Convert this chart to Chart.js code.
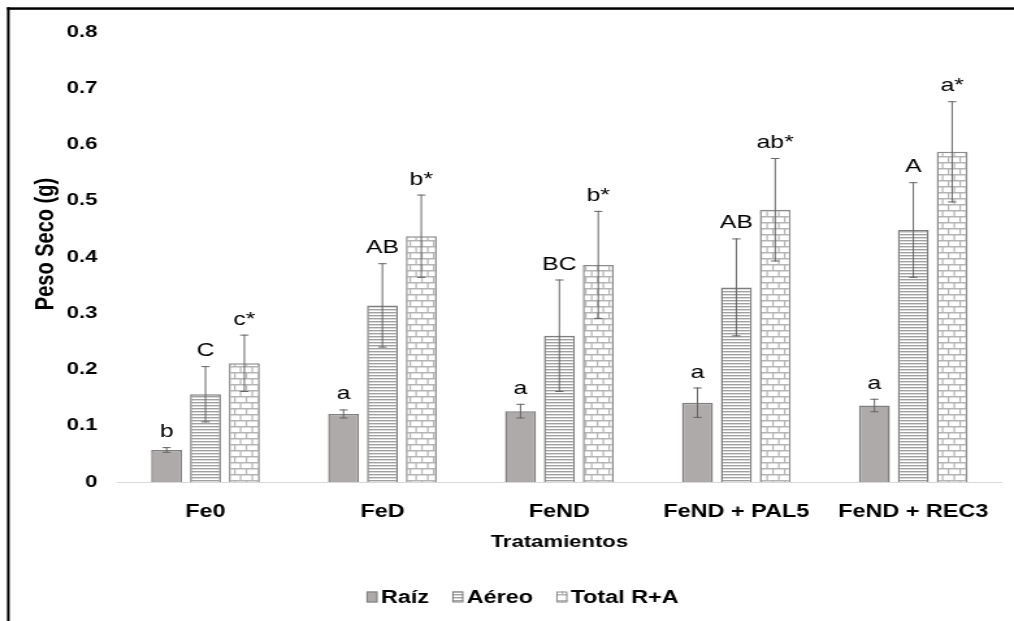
<!DOCTYPE html>
<html>
<head>
<meta charset="utf-8">
<script src="https://cdn.jsdelivr.net/npm/chart.js@4.4.1/dist/chart.umd.min.js"></script>
<style>
  html, body { margin: 0; padding: 0; background: #fff; }
  #chart { display: block; }
</style>
</head>
<body>
<!-- the reference is an Excel chart stretched sideways: draw narrow, widen with css -->
<canvas id="chart" width="780" height="621" style="width:1014px;height:621px"></canvas>
<script>
const categories = ["Fe0", "FeD", "FeND", "FeND + PAL5", "FeND + REC3"];
const seriesNames = ["Raíz", "Aéreo", "Total R+A"];

const raiz = [0.057, 0.121, 0.126, 0.141, 0.136];
const raizErr = [0.005, 0.008, 0.013, 0.027, 0.012];
const raizLetters = ["b", "a", "a", "a", "a"];

const aereo = [0.156, 0.314, 0.260, 0.346, 0.448];
const aereoErr = [0.050, 0.075, 0.100, 0.087, 0.085];
const aereoLetters = ["C", "AB", "BC", "AB", "A"];

const total = [0.211, 0.437, 0.386, 0.484, 0.587];
const totalErr = [0.051, 0.074, 0.096, 0.092, 0.090];
const totalLetters = ["c*", "b*", "b*", "ab*", "a*"];

const yTickLabels = ["0", "0.1", "0.2", "0.3", "0.4", "0.5", "0.6", "0.7", "0.8"];
const yTitle = "Peso Seco (g)";
const xTitle = "Tratamientos";

const FONT = "'Liberation Sans', Arial, Helvetica, sans-serif";
const ctx = document.getElementById("chart").getContext("2d");

function stripePattern() {
  const c = document.createElement("canvas");
  c.width = 4; c.height = 3;
  const g = c.getContext("2d");
  g.fillStyle = "#ffffff"; g.fillRect(0, 0, 4, 3);
  g.fillStyle = "#a0a0a0"; g.fillRect(0, 0, 4, 1);
  g.fillStyle = "#dadada"; g.fillRect(0, 1, 4, 1);
  return ctx.createPattern(c, "repeat");
}

function brickPattern() {
  const c = document.createElement("canvas");
  c.width = 9; c.height = 12;
  const g = c.getContext("2d");
  g.fillStyle = "#ffffff"; g.fillRect(0, 0, 9, 12);
  g.fillStyle = "#b5b5b5";
  g.fillRect(0, 0, 9, 1.5);
  g.fillRect(0, 6, 9, 1.5);
  g.fillRect(0, 0, 1.2, 6);
  g.fillRect(4.5, 6, 1.2, 6);
  return ctx.createPattern(c, "repeat");
}

// outer frame and the y title (sits a bit above the plot centre in the original)
const frame = {
  id: "frame",
  beforeDraw(chart) {
    const c = chart.ctx;
    c.save();
    c.fillStyle = "#ffffff";
    c.fillRect(0, 0, chart.width, chart.height);
    c.fillStyle = "#000000";
    c.fillRect(5.4, 7.3, 2, chart.height);
    c.fillRect(5.4, 7.3, chart.width, 2.5);
    c.restore();
  },
  afterDraw(chart) {
    const c = chart.ctx;
    c.save();
    c.translate(35, 244);
    c.rotate(-Math.PI / 2);
    c.font = "bold 20px " + FONT;
    c.fillStyle = "#000000";
    c.textAlign = "center";
    c.textBaseline = "middle";
    c.fillText(yTitle, 0, 0);
    c.restore();
  }
};

const errorBars = {
  id: "errorBars",
  afterDatasetsDraw(chart) {
    const c = chart.ctx;
    const y = chart.scales.y;
    c.save();
    chart.data.datasets.forEach((ds, i) => {
      chart.getDatasetMeta(i).data.forEach((bar, j) => {
        const top = y.getPixelForValue(ds.data[j] + ds.errors[j]);
        const bottom = y.getPixelForValue(ds.data[j] - ds.errors[j]);
        c.strokeStyle = "#666666";
        c.lineWidth = 1;
        c.beginPath();
        c.moveTo(bar.x, top); c.lineTo(bar.x, bottom);
        c.moveTo(bar.x - 3.2, top + 0.5); c.lineTo(bar.x + 3.2, top + 0.5);
        c.moveTo(bar.x - 3.2, bottom - 0.5); c.lineTo(bar.x + 3.2, bottom - 0.5);
        c.stroke();
        c.fillStyle = "#000000";
        c.font = "19px " + FONT;
        c.textAlign = "center";
        c.textBaseline = "alphabetic";
        c.fillText(ds.letters[j], bar.x, top - 10);
      });
    });
    c.restore();
  }
};

const legendRow = {
  id: "legendRow",
  afterDraw(chart) {
    const c = chart.ctx;
    const ds = chart.data.datasets;
    c.save();
    c.font = "bold 18px " + FONT;
    c.textBaseline = "middle";
    c.textAlign = "left";
    const boxW = 8.5, boxH = 11, gap = 2.5, spacing = 18;
    let width = 0;
    ds.forEach((d, i) => {
      width += boxW + gap + c.measureText(d.label).width;
      if (i < ds.length - 1) width += spacing;
    });
    let x = 402 - width / 2;
    const yMid = 597;
    ds.forEach(d => {
      c.fillStyle = d.backgroundColor;
      c.fillRect(x, yMid - boxH / 2, boxW, boxH);
      c.strokeStyle = d.borderColor;
      c.lineWidth = 1;
      c.strokeRect(x + 0.5, yMid - boxH / 2 + 0.5, boxW - 1, boxH - 1);
      x += boxW + gap;
      c.fillStyle = "#000000";
      c.fillText(d.label, x, yMid + 1);
      x += c.measureText(d.label).width + spacing;
    });
    c.restore();
  }
};

new Chart(ctx, {
  type: "bar",
  data: {
    labels: categories,
    datasets: [
      { label: seriesNames[0], data: raiz, errors: raizErr, letters: raizLetters,
        backgroundColor: "#aeaaaa", borderColor: "#7f7f7f", borderWidth: 1.5 },
      { label: seriesNames[1], data: aereo, errors: aereoErr, letters: aereoLetters,
        backgroundColor: stripePattern(), borderColor: "#7f7f7f", borderWidth: 1.5 },
      { label: seriesNames[2], data: total, errors: totalErr, letters: totalLetters,
        backgroundColor: brickPattern(), borderColor: "#8c8c8c", borderWidth: 1.5 }
    ]
  },
  options: {
    responsive: false,
    devicePixelRatio: 1,
    animation: false,
    layout: { padding: { top: 32, right: 7, bottom: 43, left: 0 } },
    datasets: { bar: { categoryPercentage: 0.659, barPercentage: 0.795, borderSkipped: "start" } },
    plugins: { legend: { display: false }, tooltip: { enabled: false } },
    scales: {
      x: {
        grid: { display: false, drawTicks: false },
        border: { display: true, color: "#d9d9d9", width: 1 },
        ticks: { color: "#000000", font: { family: FONT, size: 18, weight: "bold" }, padding: 19, maxRotation: 0, autoSkip: false },
        title: { display: true, text: xTitle, color: "#000000", font: { family: FONT, size: 17, weight: "bold" }, padding: { top: 0, bottom: 25 } },
        afterFit(s) { s.height = 96; }
      },
      y: {
        min: 0, max: 0.8,
        grid: { display: false, drawTicks: false },
        border: { display: false },
        ticks: { stepSize: 0.1, color: "#000000", font: { family: FONT, size: 17, weight: "bold" }, padding: 15,
                 callback: (v, i) => yTickLabels[i] },
        afterFit(s) { s.width = 90; }
      }
    }
  },
  plugins: [frame, errorBars, legendRow]
});
</script>
</body>
</html>
